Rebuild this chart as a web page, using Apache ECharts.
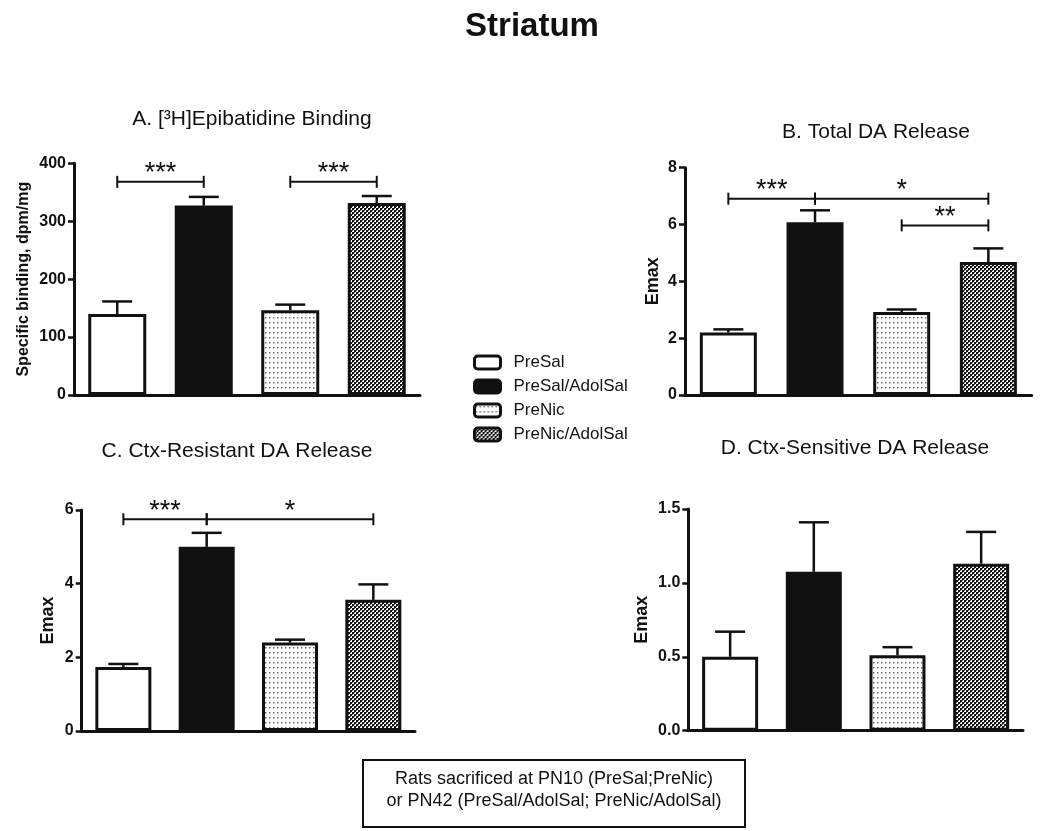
<!DOCTYPE html>
<html><head><meta charset="utf-8">
<script src="https://cdn.jsdelivr.net/npm/echarts@6/dist/echarts.min.js"></script>
<style>html,body{margin:0;padding:0;background:#fff}#c{width:1050px;height:831px}</style>
</head><body><div id="c"></div>
<script>
// ---------- data ----------
const groups = ['PreSal', 'PreSal/AdolSal', 'PreNic', 'PreNic/AdolSal'];
const mainTitle = 'Striatum';
const panelTitles = ['A. [³H]Epibatidine Binding', 'B. Total DA Release', 'C. Ctx-Resistant DA Release', 'D. Ctx-Sensitive DA Release'];
const yNames = ['Specific binding, dpm/mg', 'Emax', 'Emax', 'Emax'];
const yMax = [400, 8, 6, 1.5];
const yStep = [100, 2, 2, 0.5];
const meanA = [140, 327, 146.5, 331.5];
const semA = [21.5, 15, 9.5, 12];
const meanB = [2.2, 6.08, 2.92, 4.68];
const semB = [0.11, 0.42, 0.09, 0.48];
const meanC = [1.74, 5.0, 2.4, 3.56];
const semC = [0.08, 0.38, 0.08, 0.42];
const meanD = [0.50, 1.075, 0.51, 1.13];
const semD = [0.17, 0.335, 0.055, 0.215];
// significance brackets: [fromIndex, toIndex, value, label]
const sigA = [[0, 1, 368, '***'], [2, 3, 368, '***']];
const sigB = [[0, 1, 6.91, '***'], [1, 3, 6.91, '*'], [2, 3, 5.97, '**']];
const sigC = [[0, 1, 5.75, '***'], [1, 3, 5.75, '*']];
const sigD = [];
const footnote = ['Rats sacrificed at PN10 (PreSal;PreNic)', 'or PN42 (PreSal/AdolSal; PreNic/AdolSal)'];

const means = [meanA, meanB, meanC, meanD];
const sems = [semA, semB, semC, semD];
const sigs = [sigA, sigB, sigC, sigD];

// ---------- styles ----------
const FONT = '"Liberation Sans", Arial, Helvetica, sans-serif';
const INK = '#111';
function makeDots() {
  const c = document.createElement('canvas'); c.width = 4; c.height = 5;
  const g = c.getContext('2d');
  g.fillStyle = '#fff'; g.fillRect(0, 0, 4, 5);
  g.fillStyle = '#6a6a6a'; g.fillRect(1, 2, 1.5, 1.5);
  return c;
}
function makeChecker() {
  const c = document.createElement('canvas'); c.width = 4; c.height = 4;
  const g = c.getContext('2d');
  g.fillStyle = '#fff'; g.fillRect(0, 0, 4, 4);
  g.fillStyle = '#111'; g.fillRect(0, 0, 2, 2); g.fillRect(2, 2, 2, 2);
  g.fillStyle = '#555'; g.fillRect(2, 0, 1, 1); g.fillRect(0, 2, 1, 1);
  return c;
}
const fills = ['#ffffff', INK, { image: makeDots(), repeat: 'repeat' }, { image: makeChecker(), repeat: 'repeat' }];

const grids = [
  { left: 74, top: 163.3, width: 346, height: 231.7 },
  { left: 685, top: 167.7, width: 346.7, height: 227.3 },
  { left: 81.7, top: 510, width: 333.3, height: 221 },
  { left: 688.3, top: 509, width: 334.7, height: 221.7 }
];
const barWidths = [58, 57, 56, 56];
const nameGaps = [42, 23, 25, 37];
const nameSizes = [16, 18, 18, 18];
const titlePos = [[252, 119], [876, 132], [237, 451], [855, 448]];

function txt(x, y, text, font, align) {
  return { type: 'text', x: x, y: y, silent: true,
    style: { text: text, font: font, fill: INK, align: align || 'center', verticalAlign: 'middle',
      textAlign: align || 'center', textVerticalAlign: 'middle' } };
}

function renderErr(params, api) {
  const x = api.value(0), m = api.value(1), t = api.value(2);
  const a = api.coord([x, m]), b = api.coord([x, t]);
  return { type: 'group', children: [
    { type: 'line', shape: { x1: a[0], y1: a[1], x2: b[0], y2: b[1] }, style: { stroke: INK, lineWidth: 2.5 } },
    { type: 'line', shape: { x1: b[0] - 15, y1: b[1], x2: b[0] + 15, y2: b[1] }, style: { stroke: INK, lineWidth: 2.5 } }
  ] };
}
function makeSigRenderer(list) {
  return function (params, api) {
    const x1 = api.value(0), x2 = api.value(1), y = api.value(2);
    const a = api.coord([x1, y]), b = api.coord([x2, y]);
    const lab = list[params.dataIndex][3];
    const ls = { stroke: INK, lineWidth: 2 };
    return { type: 'group', children: [
      { type: 'line', shape: { x1: a[0], y1: a[1], x2: b[0], y2: b[1] }, style: ls },
      { type: 'line', shape: { x1: a[0], y1: a[1] - 6, x2: a[0], y2: a[1] + 6 }, style: ls },
      { type: 'line', shape: { x1: b[0], y1: b[1] - 6, x2: b[0], y2: b[1] + 6 }, style: ls },
      txt((a[0] + b[0]) / 2, a[1] - 8, lab, '27px ' + FONT)
    ] };
  };
}

const xAxes = [], yAxes = [], series = [];
for (let p = 0; p < 4; p++) {
  xAxes.push({ type: 'category', gridIndex: p, data: groups,
    axisLine: { lineStyle: { color: INK, width: 3 } }, axisTick: { show: false }, axisLabel: { show: false } });
  yAxes.push({ type: 'value', gridIndex: p, min: 0, max: yMax[p], interval: yStep[p],
    name: yNames[p], nameLocation: 'middle', nameGap: nameGaps[p],
    nameTextStyle: { fontFamily: FONT, fontWeight: 'bold', fontSize: nameSizes[p], color: INK },
    axisLine: { show: true, lineStyle: { color: INK, width: 3 } },
    axisTick: { show: true, length: 6, lineStyle: { color: INK, width: 2.5 } },
    splitLine: { show: false },
    axisLabel: { fontFamily: FONT, fontWeight: 'bold', fontSize: 16, color: INK, margin: 8,
      formatter: p === 3 ? (v => v.toFixed(1)) : (v => String(v)) } });
  groups.forEach((gname, g) => {
    series.push({ type: 'bar', name: gname, xAxisIndex: p, yAxisIndex: p, barWidth: barWidths[p], barGap: '-100%',
      silent: true, z: 2,
      data: means[p].map((v, i) => (i === g ? v : '-')),
      itemStyle: { color: fills[g], borderColor: INK, borderWidth: 3 } });
  });
  series.push({ type: 'custom', xAxisIndex: p, yAxisIndex: p, silent: true, z: 3,
    data: means[p].map((m, i) => [i, m, m + sems[p][i]]), renderItem: renderErr });
  if (sigs[p].length) {
    series.push({ type: 'custom', xAxisIndex: p, yAxisIndex: p, silent: true, z: 4,
      data: sigs[p].map(s => [s[0], s[1], s[2]]), renderItem: makeSigRenderer(sigs[p]) });
  }
}

const graphics = [txt(532, 27, mainTitle, 'bold 33px ' + FONT)];
panelTitles.forEach((t, i) => graphics.push(txt(titlePos[i][0], titlePos[i][1], t, '21px ' + FONT)));
graphics.push({ type: 'rect', shape: { x: 363, y: 760, width: 382, height: 67 }, silent: true,
  style: { fill: '#fff', stroke: INK, lineWidth: 2 } });
graphics.push(txt(554, 779, footnote[0], '18px ' + FONT));
graphics.push(txt(554, 801, footnote[1], '18px ' + FONT));

const chart = echarts.init(document.getElementById('c'), null, { renderer: 'canvas' });
chart.setOption({
  animation: false,
  backgroundColor: '#fff',
  grid: grids,
  xAxis: xAxes,
  yAxis: yAxes,
  legend: { data: groups, orient: 'vertical', left: 468, top: 349, icon: 'roundRect', itemWidth: 26, itemHeight: 13,
    itemGap: 7, selectedMode: false,
    itemStyle: { borderColor: INK, borderWidth: 3 },
    textStyle: { fontFamily: FONT, fontSize: 17, color: INK, padding: [0, 0, 0, 8] } },
  graphic: graphics,
  series: series
});
</script>
</body></html>
